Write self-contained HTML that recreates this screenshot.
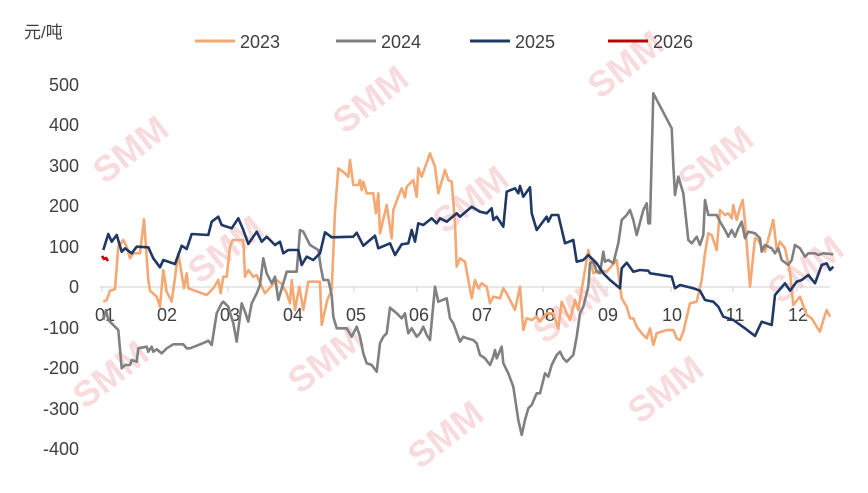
<!DOCTYPE html>
<html><head><meta charset="utf-8"><style>
body{margin:0;background:#fff;}
svg{display:block;font-family:"Liberation Sans","Noto Sans CJK SC",sans-serif;}
</style></head><body>
<svg width="868" height="493" viewBox="0 0 868 493">
<g fill="#f4c3c7" font-weight="bold" font-size="36" opacity="0.6">
<text transform="translate(105,185) rotate(-38)">SMM</text>
<text transform="translate(345,135) rotate(-38)">SMM</text>
<text transform="translate(600,100) rotate(-38)">SMM</text>
<text transform="translate(690,195) rotate(-38)">SMM</text>
<text transform="translate(200,285) rotate(-38)">SMM</text>
<text transform="translate(445,235) rotate(-38)">SMM</text>
<text transform="translate(545,345) rotate(-38)">SMM</text>
<text transform="translate(300,395) rotate(-38)">SMM</text>
<text transform="translate(780,305) rotate(-38)">SMM</text>
<text transform="translate(640,425) rotate(-38)">SMM</text>
<text transform="translate(85,410) rotate(-38)">SMM</text>
<text transform="translate(420,470) rotate(-38)">SMM</text>
</g>
<line x1="100" y1="287" x2="830" y2="287" stroke="#d0d0d0" stroke-width="1"/>
<g stroke="#d0d0d0"><line x1="102" y1="287" x2="102" y2="292"/><line x1="165" y1="287" x2="165" y2="292"/><line x1="228" y1="287" x2="228" y2="292"/><line x1="292" y1="287" x2="292" y2="292"/><line x1="354" y1="287" x2="354" y2="292"/><line x1="417" y1="287" x2="417" y2="292"/><line x1="480" y1="287" x2="480" y2="292"/><line x1="543" y1="287" x2="543" y2="292"/><line x1="607" y1="287" x2="607" y2="292"/><line x1="671" y1="287" x2="671" y2="292"/><line x1="733" y1="287" x2="733" y2="292"/><line x1="797" y1="287" x2="797" y2="292"/></g>
<g font-size="18" fill="#404040" text-anchor="end">
<text x="79" y="91">500</text><text x="79" y="131">400</text><text x="79" y="172">300</text><text x="79" y="212">200</text><text x="79" y="253">100</text><text x="79" y="293">0</text><text x="79" y="334">-100</text><text x="79" y="374">-200</text><text x="79" y="415">-300</text><text x="79" y="455">-400</text>
</g>
<g font-size="18" fill="#404040" text-anchor="middle">
<text x="105" y="321">01</text><text x="167" y="321">02</text><text x="230" y="321">03</text><text x="293" y="321">04</text><text x="356" y="321">05</text><text x="419" y="321">06</text><text x="482" y="321">07</text><text x="545" y="321">08</text><text x="608" y="321">09</text><text x="672" y="321">10</text><text x="735" y="321">11</text><text x="798" y="321">12</text>
</g>
<text x="24" y="38" font-size="17" fill="#404040">元/吨</text>
<g stroke-width="3">
<line x1="195" y1="41" x2="235" y2="41" stroke="#f4a874"/>
<line x1="336" y1="41" x2="376" y2="41" stroke="#808080"/>
<line x1="470" y1="41" x2="510" y2="41" stroke="#1f3864"/>
<line x1="608" y1="41" x2="648" y2="41" stroke="#c00000"/>
</g>
<g font-size="18" fill="#404040"><text x="240" y="48">2023</text><text x="381" y="48">2024</text><text x="515" y="48">2025</text><text x="653" y="48">2026</text></g>
<g fill="none" stroke-width="2.6" stroke-linejoin="round">
<polyline stroke="#f4a874" points="103.3,301.7 106.7,300 110,290.7 115,289.3 118.3,246.7 123.3,240 126.7,246.7 130,258.3 133.3,253.3 140,253.3 144,219.3 148.3,280 150,290.7 156.7,296.7 160,306.7 163.3,270 166.7,291.7 171.7,301.7 178.3,253.3 184,288.3 186.7,273.3 188.3,288.3 206.7,295 213.3,288.3 218.3,280 220.7,293.3 223.3,276.7 226.7,276.7 230,246.7 232.7,240 243.3,240 245,276.7 248.3,270 253.3,276.7 256.7,275 258.3,279.3 265,293.3 276.7,280 281.7,284 286.7,293.3 290,303.3 291.7,280 295,310 299.3,286.7 303.3,310 308.3,281.7 320,281.7 321.7,325 327.3,300 331.7,290 335,211.7 338.3,168.3 345,173.3 348.3,176.7 350,160 353.3,185 358.3,185 360,180 361.7,190 363.3,181.7 366.7,193.3 373.3,193.3 376,213.3 378.3,193.3 380,233.3 386.7,205 391.7,238.3 393.3,210 398.3,196.7 401.7,188.3 405,197.3 406.7,186.7 413.3,180 416.7,196.7 418.3,168.3 421.7,176.7 430,153.3 435,166.7 438.3,193.3 445,170 448.3,180 451.7,181.7 455,223.3 456.7,266.7 460,258.3 465,261.7 468.3,280 471.7,298.3 475,280 478.3,288.3 481.7,283.3 486.7,286.7 490,303.3 493.3,296.7 500,298.3 503.3,288.3 506.7,293.3 515,310 520,286.7 523.3,330 526.7,318.3 531.7,320 536.7,316.7 540,321.7 546.7,313.3 553.3,313.3 558.3,328.3 561.7,301.7 566.7,313.3 570,320 575,300 578.3,310 583.3,280 588.3,250 593.3,273.3 600,270 606.7,271.7 616.7,260 621.7,298.3 626.7,306.7 630,318.3 633.3,318.3 636.7,326.7 641.7,333.3 646.7,338.3 650,328.3 653.3,345 656.7,333.3 666.7,330 673.3,330 676.7,338.3 680,340 683.3,331.7 690,303.3 696.7,301.7 701.7,280 705,253.3 708.3,233.3 711.7,235 716.7,250 720,210 725,215 728.3,213.3 731.7,218.3 733.3,205 736.7,220 739.3,210 742.7,200 745,221.7 750,286.7 755,238.3 758.3,240 761.7,246.7 765,251.7 773.3,220 776.7,250 780,241.7 785,248.3 790,271.7 793.3,305 800,296.7 806.7,315 811.7,318.3 816.7,326.7 820,331.7 823.3,320 826.7,310 830,316.7"/>
<polyline stroke="#808080" points="103.3,320 106,310 108.3,320 115,326.7 118.3,330 121.7,368.3 125,365 130,365 131.7,360 136.7,361.7 138.3,348.3 146.7,346.7 148.3,351.7 151.7,346.7 153.3,351.7 156.7,349.3 161.7,353.3 166.7,348.3 173.3,344.3 183.3,344.3 186.7,348.3 190,348.3 196.7,345.7 205,342.3 208.3,340.7 211.7,345 216.7,313.3 221.7,303.3 223.3,301.7 228.3,306.7 233.3,323.3 236.7,341.7 241.7,303.3 245,311.7 248.3,321.7 251.7,303.3 256.7,293.3 260,285 263.3,258.3 266.7,273.3 271.7,283.3 275,276.7 278.3,300 283.3,283.3 286.7,271.7 296.7,271.7 300,230 303.3,231.7 310,245 318.3,250 320.7,266.7 323.3,280 328.3,280 331.7,295 333.3,316.7 336.7,328.3 346.7,328.3 351.7,336.7 356.7,326.7 360,336.7 363.3,353.3 366.7,363.3 371.7,365 376.7,371.7 380,343.3 383.3,336.7 386.7,333.3 390,307.7 396.7,313.3 401.7,318.3 405,313.3 406.7,325 408.3,333.3 411.7,328.3 416.7,336.7 420,333.3 423.3,326.7 426.7,335 430,340 435,286.7 438.3,301.7 446.7,298.3 450,318.3 453.3,323.3 460,341.7 463.3,336.7 466.7,338.3 473.3,340 476.7,343.3 480,355 485,358.3 490,365 493.3,356.7 495,350 496.7,358.3 501.7,346.7 503.3,363.3 508.3,373.3 513.3,386.7 518.3,420 521.7,435 525,420 528.3,408.3 531.7,405 536.7,393.3 540,393.3 545,373.3 548.3,376.7 551.7,365 556.7,355 560,351.7 563.3,358.3 566.7,361.7 573.3,355 576.7,336.7 580,313.3 583.3,306.7 588.3,286.7 590,263.3 593.3,261.7 596.7,271.7 600,273.3 603.3,251.7 605,261.7 608.3,260 613.3,263.3 618.3,243.3 621.7,220 626.7,215 630,210 633.3,220 636.7,235 643.3,210 646.7,203.3 648.3,223.3 650,223.3 653.3,93.3 671.7,128.3 673.3,165 675,195 678.3,176.7 683.3,193.3 688.3,240 691.7,243.3 696.7,236.7 700,245 703.3,235 705,200 708.3,215 716.7,215 720,221.7 725,230 728.3,236.7 731.7,230 735,236.7 738.3,228.3 741.7,221.7 745,238.3 748.3,231.7 755,233.3 760,238.3 761.7,251.7 765,245 771.7,248.3 775,253.3 778.3,248.3 781.7,260 788.3,265 791.7,260 795,245 800,248.3 805,256.7 808.3,253.3 815,253.3 818.3,255 823.3,253.3 833.3,254.3"/>
<polyline stroke="#1f3864" points="103.3,250 108.3,234 111.7,241.7 116.7,235 121.7,251.7 125,248.3 131.7,253.3 136.7,246.7 148.3,247.3 153.3,258.3 160,267.3 163.3,260 175,264 181.7,245.7 186.7,249 191.7,234 208.3,235 211.7,221.7 218.3,216.7 221.7,225 231.7,228.3 238.3,218.3 243.3,230 248.3,244 256.7,231.7 261.7,241.7 266.7,236.7 275,245 280,241.7 283.3,253.3 288.3,250 298.3,250 301.7,265 306.7,256.7 313.3,260 320,253.3 325,232.3 331.7,237.3 353.3,236.7 356.7,232.7 363.3,245.7 375,235.7 378.3,248.3 390,243.3 395,255 401.7,244.3 408.3,243.3 411.7,230 415,241.7 418.3,223.3 423.3,225 431.7,218.3 436.7,223.3 440,218.3 446.7,221.7 456.7,213.3 460,216.7 471.7,206.7 480,211.7 486.7,213.3 491.7,208.3 493.3,220 496.7,216.7 503.3,226.7 506.7,191.7 515,188.3 518.3,193.3 520,186 523.3,196.7 530,187.3 531.7,213.3 536.7,230 546.7,216.7 548.3,221.7 551.7,215 558.3,215 565,243.3 573.3,240 576.7,261.7 583.3,260 588.3,255 596.7,263.3 603.3,273.3 606.7,276.7 610,280 620,288.3 621.7,268.3 626.7,262.7 633.3,271.7 640,270 648.3,270.7 650,273.3 671.7,276.7 675,288.3 680,285 693.3,288.3 700,290.7 705,300 713.3,301.7 718.3,306.7 723.3,316.7 733.3,320 745,328.3 755,336 761.7,321.7 771.7,325 775,295 785,283.3 790,290.7 796.7,281.7 801.7,280 808.3,275 815,283.3 821.7,265 826.7,263.3 830,270 833.3,266.7"/>
<polyline stroke="#c00000" points="102,256 104,259 106,258 108,261"/>
</g>
</svg>
</body></html>
